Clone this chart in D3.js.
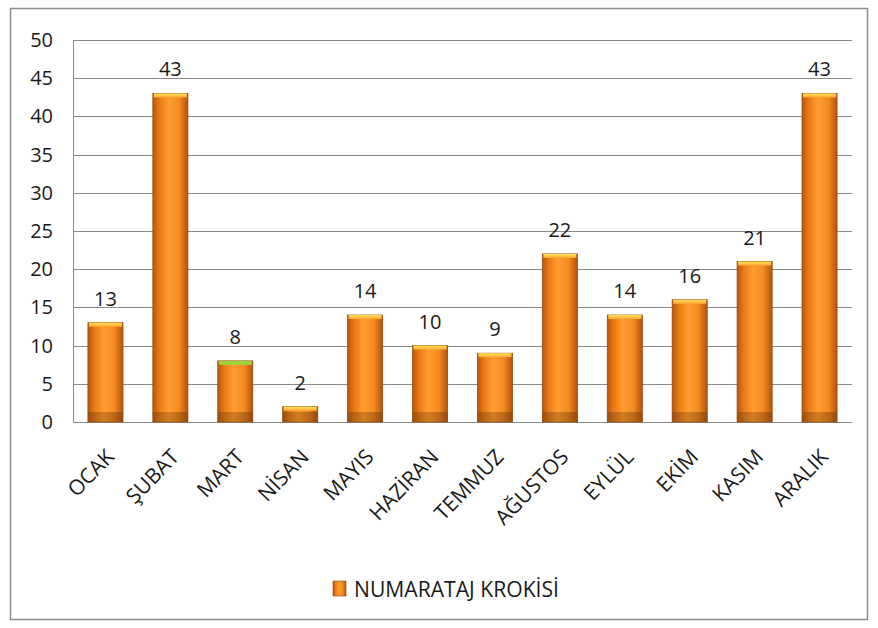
<!DOCTYPE html>
<html lang="tr">
<head>
<meta charset="UTF-8">
<title>Numarataj Krokisi</title>
<script src="https://d3js.org/d3.v7.min.js"></script>
<style>
  body { margin: 0; background: #fff; }
  svg text { font-family: "Open Sans", "Noto Sans", sans-serif; fill: #1a1a1a; }
</style>
</head>
<body>
<div id="chart"></div>
<script>
// data
const months = ["OCAK", "ŞUBAT", "MART", "NİSAN", "MAYIS", "HAZİRAN", "TEMMUZ", "AĞUSTOS", "EYLÜL", "EKİM", "KASIM", "ARALIK"];
const values = [13, 43, 8, 2, 14, 10, 9, 22, 14, 16, 21, 43];
const yTicks = [0, 5, 10, 15, 20, 25, 30, 35, 40, 45, 50];
const seriesName = "NUMARATAJ KROKİSİ";

const W = 878, H = 628;
const margin = { top: 40, right: 26, bottom: 206, left: 73 };
const width = W - margin.left - margin.right,
      height = H - margin.top - margin.bottom;

const svg = d3.select("#chart").append("svg")
    .attr("width", W)
    .attr("height", H);

// gradients for the bars
const defs = svg.append("defs");
const grad = defs.append("linearGradient")
    .attr("id", "barGrad")
    .attr("x1", "0%").attr("x2", "100%").attr("y1", "0%").attr("y2", "0%");
grad.append("stop").attr("offset", "0%").attr("stop-color", "#b9560c");
grad.append("stop").attr("offset", "18%").attr("stop-color", "#e97814");
grad.append("stop").attr("offset", "45%").attr("stop-color", "#ff9d2f");
grad.append("stop").attr("offset", "75%").attr("stop-color", "#f48a20");
grad.append("stop").attr("offset", "100%").attr("stop-color", "#b4520c");

const capGrad = defs.append("linearGradient")
    .attr("id", "capGrad")
    .attr("x1", "0%").attr("x2", "0%").attr("y1", "0%").attr("y2", "100%");
capGrad.append("stop").attr("offset", "0%").attr("stop-color", "#ffe35a");
capGrad.append("stop").attr("offset", "100%").attr("stop-color", "#ffa930");

const baseGrad = defs.append("linearGradient")
    .attr("id", "baseGrad")
    .attr("x1", "0%").attr("x2", "100%").attr("y1", "0%").attr("y2", "0%");
baseGrad.append("stop").attr("offset", "0%").attr("stop-color", "#8e4a10");
baseGrad.append("stop").attr("offset", "45%").attr("stop-color", "#c0701e");
baseGrad.append("stop").attr("offset", "100%").attr("stop-color", "#8a4510");

// outer frame
svg.append("rect")
    .attr("x", 10.5).attr("y", 8.5)
    .attr("width", 857).attr("height", 611)
    .attr("fill", "#fff")
    .attr("stroke", "#8c8c8c")
    .attr("stroke-width", 1.5);

const g = svg.append("g")
    .attr("transform", `translate(${margin.left},${margin.top})`);

const x = d3.scaleBand()
    .domain(months)
    .range([0, width])
    .paddingInner(0.46)
    .paddingOuter(0.23);

const y = d3.scaleLinear()
    .domain([0, 50])
    .range([height, 0]);

// gridlines
g.append("g")
    .selectAll("line")
    .data(yTicks)
    .join("line")
    .attr("x1", 0).attr("x2", width)
    .attr("y1", d => Math.round(y(d)) + 0.5)
    .attr("y2", d => Math.round(y(d)) + 0.5)
    .attr("stroke", "#8a8a8a")
    .attr("stroke-width", 1);

// left axis line
g.append("line")
    .attr("x1", 0.5).attr("x2", 0.5)
    .attr("y1", 0).attr("y2", height)
    .attr("stroke", "#8a8a8a");

// y axis labels
const yAxis = g.append("g")
    .call(d3.axisLeft(y).tickValues(yTicks).tickSize(0).tickPadding(20));
yAxis.select(".domain").remove();
yAxis.selectAll("text")
    .style("font-size", "20px")
    .style("font-family", "'Open Sans', sans-serif")
    .attr("fill", "#1a1a1a");

// bars
const bars = g.selectAll("g.bar")
    .data(values)
    .join("g")
    .attr("class", "bar")
    .attr("transform", (d, i) => `translate(${x(months[i])},0)`);

bars.append("rect")
    .attr("y", d => y(d))
    .attr("width", x.bandwidth())
    .attr("height", d => height - y(d))
    .attr("fill", "url(#barGrad)")
    .attr("stroke", "#9a4a0c")
    .attr("stroke-width", 0.8);

bars.append("rect")
    .attr("y", d => height - Math.min(10, height - y(d)))
    .attr("width", x.bandwidth())
    .attr("height", d => Math.min(10, height - y(d)))
    .attr("fill", "url(#baseGrad)")
    .attr("opacity", 0.7);

bars.append("rect")
    .attr("x", 1)
    .attr("y", d => y(d))
    .attr("width", x.bandwidth() - 2)
    .attr("height", 4)
    .attr("fill", (d, i) => i === 2 ? "#9bd23a" : "url(#capGrad)");

// value labels
bars.append("text")
    .attr("x", x.bandwidth() / 2)
    .attr("y", d => y(d) - 17)
    .attr("text-anchor", "middle")
    .style("font-size", "20px")
    .text(d => d);

// x labels
const xAxis = g.append("g")
    .attr("transform", `translate(0,${height})`)
    .call(d3.axisBottom(x).tickSize(0).tickPadding(0));
xAxis.select(".domain").remove();
xAxis.selectAll("text")
    .attr("text-anchor", "end")
    .attr("dy", 0)
    .attr("transform", "translate(10,36) rotate(-46)")
    .style("font-size", "21px")
    .style("font-family", "'Open Sans', sans-serif")
    .attr("fill", "#1a1a1a");

// legend
const legend = svg.append("g")
    .attr("transform", "translate(333,581)");
legend.append("rect")
    .attr("width", 13).attr("height", 15)
    .attr("fill", "url(#barGrad)")
    .attr("stroke", "#9a4a0c")
    .attr("stroke-width", 0.6);
legend.append("text")
    .attr("x", 21).attr("y", 16)
    .style("font-size", "21px")
    .attr("textLength", 205)
    .attr("lengthAdjust", "spacingAndGlyphs")
    .text(seriesName);
</script>
</body>
</html>
